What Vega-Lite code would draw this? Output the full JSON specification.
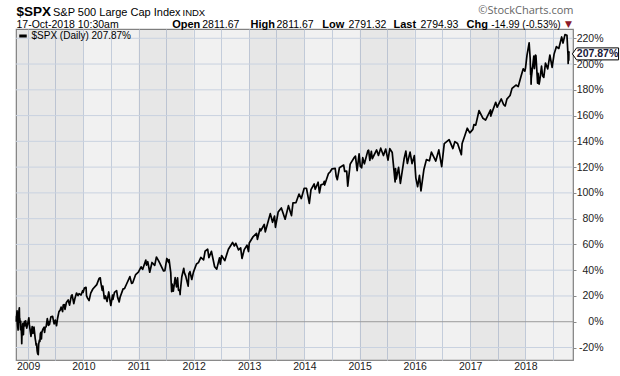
{
  "$schema": "https://vega.github.io/schema/vega-lite/v6.json",
  "width": 557,
  "height": 331,
  "autosize": {"type": "none"},
  "padding": {"left": 16, "top": 29, "right": 47, "bottom": 16},
  "background": "#ffffff",
  "config": {
    "view": {"stroke": "#8a8a8a", "strokeWidth": 1.2, "fill": "#ffffff"},
    "font": "Liberation Sans"
  },
  "datasets": {
    "spx": [
      {"d":"2008-10-15","v":0},{"d":"2008-10-16","v":4.2},{"d":"2008-10-17","v":3.6},{"d":"2008-10-20","v":8.5},{"d":"2008-10-21","v":5.2},{"d":"2008-10-22","v":-1.2},{"d":"2008-10-24","v":-3.4},{"d":"2008-10-27","v":-6.5},{"d":"2008-10-28","v":3.6},{"d":"2008-10-31","v":6.7},{"d":"2008-11-04","v":10.8},{"d":"2008-11-06","v":-0.3},{"d":"2008-11-07","v":2.6},{"d":"2008-11-12","v":-6.1},{"d":"2008-11-13","v":0.4},{"d":"2008-11-14","v":-3.8},{"d":"2008-11-17","v":-6.3},{"d":"2008-11-19","v":-11.2},{"d":"2008-11-20","v":-17.1},{"d":"2008-11-21","v":-11.9},{"d":"2008-11-24","v":-6.2},{"d":"2008-11-26","v":-2.2},{"d":"2008-11-28","v":-1.3},{"d":"2008-12-01","v":-10.1},{"d":"2008-12-03","v":-4.1},{"d":"2008-12-05","v":-3.5},{"d":"2008-12-08","v":0.2},{"d":"2008-12-12","v":-3.1},{"d":"2008-12-16","v":0.6},{"d":"2008-12-19","v":-2.2},{"d":"2008-12-23","v":-4.9},{"d":"2008-12-31","v":-0.5},
      {"d":"2009-01-06","v":3.0},{"d":"2009-01-09","v":-1.9},{"d":"2009-01-15","v":-7.1},{"d":"2009-01-20","v":-11.3},{"d":"2009-01-23","v":-8.4},{"d":"2009-01-28","v":-3.7},{"d":"2009-02-02","v":-9.1},{"d":"2009-02-09","v":-4.2},{"d":"2009-02-17","v":-13.1},{"d":"2009-02-20","v":-15.2},{"d":"2009-02-23","v":-18.1},{"d":"2009-02-26","v":-17.1},{"d":"2009-03-02","v":-22.8},{"d":"2009-03-05","v":-24.8},{"d":"2009-03-09","v":-25.5},{"d":"2009-03-12","v":-17.3},{"d":"2009-03-17","v":-14.3},{"d":"2009-03-20","v":-15.3},{"d":"2009-03-23","v":-9.4},{"d":"2009-03-26","v":-8.3},{"d":"2009-03-30","v":-13.3},{"d":"2009-04-02","v":-8.1},{"d":"2009-04-09","v":-5.7},{"d":"2009-04-17","v":-4.2},{"d":"2009-04-20","v":-8.3},{"d":"2009-04-24","v":-4.6},{"d":"2009-04-30","v":-3.9},{"d":"2009-05-08","v":2.4},{"d":"2009-05-15","v":-2.8},{"d":"2009-05-19","v":0.0},{"d":"2009-05-22","v":-2.3},{"d":"2009-06-01","v":3.9},{"d":"2009-06-12","v":4.2},{"d":"2009-06-22","v":-1.6},{"d":"2009-06-23","v":-1.4},{"d":"2009-06-30","v":1.3},{"d":"2009-07-08","v":-3.1},{"d":"2009-07-15","v":2.7},{"d":"2009-07-24","v":7.9},{"d":"2009-07-31","v":8.8},{"d":"2009-08-07","v":11.3},{"d":"2009-08-17","v":7.9},{"d":"2009-08-21","v":13.0},{"d":"2009-08-28","v":13.3},{"d":"2009-09-02","v":9.6},{"d":"2009-09-11","v":14.9},{"d":"2009-09-23","v":16.9},{"d":"2009-10-02","v":12.9},{"d":"2009-10-14","v":20.3},{"d":"2009-10-19","v":20.9},{"d":"2009-10-30","v":14.1},{"d":"2009-11-06","v":17.8},{"d":"2009-11-17","v":22.3},{"d":"2009-11-27","v":20.2},{"d":"2009-12-04","v":21.8},{"d":"2009-12-17","v":20.7},{"d":"2009-12-28","v":24.2},{"d":"2009-12-31","v":22.8},
      {"d":"2010-01-08","v":26.1},{"d":"2010-01-19","v":26.7},{"d":"2010-01-22","v":20.3},{"d":"2010-01-29","v":18.3},{"d":"2010-02-08","v":16.4},{"d":"2010-02-19","v":22.2},{"d":"2010-03-05","v":25.4},{"d":"2010-03-31","v":28.8},{"d":"2010-04-15","v":33.5},{"d":"2010-04-23","v":34.1},{"d":"2010-04-27","v":30.4},{"d":"2010-05-06","v":24.3},{"d":"2010-05-10","v":27.7},{"d":"2010-05-20","v":18.0},{"d":"2010-05-25","v":18.3},{"d":"2010-05-28","v":20.0},{"d":"2010-06-07","v":15.7},{"d":"2010-06-18","v":23.1},{"d":"2010-06-30","v":13.5},{"d":"2010-07-02","v":12.6},{"d":"2010-07-13","v":20.7},{"d":"2010-07-16","v":17.3},{"d":"2010-07-26","v":22.8},{"d":"2010-08-09","v":24.2},{"d":"2010-08-16","v":18.9},{"d":"2010-08-26","v":15.4},{"d":"2010-09-01","v":19.0},{"d":"2010-09-21","v":25.5},{"d":"2010-09-30","v":25.7},{"d":"2010-10-14","v":29.3},{"d":"2010-11-05","v":35.0},{"d":"2010-11-16","v":29.8},{"d":"2010-11-23","v":30.1},{"d":"2010-12-13","v":36.6},{"d":"2010-12-31","v":38.5},
      {"d":"2011-01-18","v":42.6},{"d":"2011-01-28","v":40.6},{"d":"2011-02-18","v":47.9},{"d":"2011-02-23","v":44.0},{"d":"2011-03-03","v":46.6},{"d":"2011-03-16","v":38.4},{"d":"2011-03-31","v":46.0},{"d":"2011-04-18","v":43.8},{"d":"2011-04-29","v":50.2},{"d":"2011-05-13","v":47.4},{"d":"2011-05-23","v":45.1},{"d":"2011-06-15","v":39.4},{"d":"2011-06-24","v":39.7},{"d":"2011-07-07","v":49.1},{"d":"2011-07-19","v":46.1},{"d":"2011-07-22","v":48.2},{"d":"2011-08-02","v":38.1},{"d":"2011-08-04","v":32.2},{"d":"2011-08-08","v":23.3},{"d":"2011-08-09","v":29.2},{"d":"2011-08-10","v":23.5},{"d":"2011-08-11","v":29.2},{"d":"2011-08-19","v":23.8},{"d":"2011-08-31","v":34.3},{"d":"2011-09-09","v":27.1},{"d":"2011-09-16","v":34.0},{"d":"2011-09-22","v":24.4},{"d":"2011-09-30","v":24.6},{"d":"2011-10-03","v":21.1},{"d":"2011-10-04","v":23.8},{"d":"2011-10-14","v":34.9},{"d":"2011-10-27","v":41.5},{"d":"2011-10-31","v":38.1},{"d":"2011-11-09","v":35.4},{"d":"2011-11-25","v":27.6},{"d":"2011-11-30","v":37.4},{"d":"2011-12-07","v":38.9},{"d":"2011-12-19","v":32.8},{"d":"2011-12-30","v":38.5},
      {"d":"2012-01-19","v":44.8},{"d":"2012-02-01","v":45.9},{"d":"2012-02-17","v":49.9},{"d":"2012-03-06","v":48.0},{"d":"2012-03-16","v":54.7},{"d":"2012-04-02","v":56.3},{"d":"2012-04-10","v":49.7},{"d":"2012-04-27","v":54.6},{"d":"2012-05-18","v":42.7},{"d":"2012-06-01","v":40.8},{"d":"2012-06-19","v":49.6},{"d":"2012-06-25","v":44.7},{"d":"2012-07-03","v":51.4},{"d":"2012-07-24","v":47.4},{"d":"2012-08-17","v":56.2},{"d":"2012-09-14","v":61.5},{"d":"2012-09-25","v":58.8},{"d":"2012-10-05","v":60.9},{"d":"2012-10-23","v":55.7},{"d":"2012-11-06","v":57.3},{"d":"2012-11-15","v":49.1},{"d":"2012-11-30","v":56.0},{"d":"2012-12-18","v":59.4},{"d":"2012-12-28","v":54.5},
      {"d":"2013-01-02","v":61.1},{"d":"2013-01-25","v":65.6},{"d":"2013-02-19","v":68.6},{"d":"2013-02-25","v":63.9},{"d":"2013-03-14","v":72.2},{"d":"2013-03-19","v":70.6},{"d":"2013-04-11","v":75.5},{"d":"2013-04-18","v":69.8},{"d":"2013-05-21","v":83.9},{"d":"2013-05-31","v":79.6},{"d":"2013-06-05","v":77.2},{"d":"2013-06-18","v":82.0},{"d":"2013-06-24","v":73.3},{"d":"2013-07-12","v":85.1},{"d":"2013-08-02","v":88.3},{"d":"2013-08-27","v":79.6},{"d":"2013-09-18","v":90.1},{"d":"2013-10-08","v":82.4},{"d":"2013-10-18","v":92.2},{"d":"2013-11-07","v":92.5},{"d":"2013-11-27","v":99.1},{"d":"2013-12-12","v":95.6},{"d":"2013-12-31","v":103.6},
      {"d":"2014-01-15","v":103.6},{"d":"2014-02-03","v":91.9},{"d":"2014-02-14","v":102.5},{"d":"2014-03-07","v":106.9},{"d":"2014-03-14","v":102.8},{"d":"2014-04-02","v":108.3},{"d":"2014-04-11","v":100.0},{"d":"2014-04-21","v":106.2},{"d":"2014-05-07","v":106.9},{"d":"2014-05-13","v":109.0},{"d":"2014-05-15","v":106.1},{"d":"2014-06-09","v":114.9},{"d":"2014-06-20","v":116.2},{"d":"2014-07-03","v":118.7},{"d":"2014-07-24","v":119.0},{"d":"2014-07-31","v":112.7},{"d":"2014-08-07","v":110.3},{"d":"2014-08-21","v":119.5},{"d":"2014-09-18","v":121.6},{"d":"2014-09-25","v":116.6},{"d":"2014-10-08","v":116.9},{"d":"2014-10-15","v":105.2},{"d":"2014-10-31","v":122.3},{"d":"2014-11-28","v":127.7},{"d":"2014-12-05","v":128.6},{"d":"2014-12-16","v":117.3},{"d":"2014-12-29","v":130.3},
      {"d":"2015-01-06","v":120.6},{"d":"2015-01-15","v":119.5},{"d":"2015-01-22","v":127.3},{"d":"2015-02-02","v":122.6},{"d":"2015-02-25","v":132.8},{"d":"2015-03-02","v":133.2},{"d":"2015-03-10","v":125.2},{"d":"2015-03-20","v":132.2},{"d":"2015-03-26","v":126.5},{"d":"2015-04-24","v":133.3},{"d":"2015-05-06","v":129.1},{"d":"2015-05-21","v":134.7},{"d":"2015-06-08","v":129.0},{"d":"2015-06-23","v":134.0},{"d":"2015-07-08","v":125.4},{"d":"2015-07-20","v":134.4},{"d":"2015-08-05","v":131.3},{"d":"2015-08-24","v":108.5},{"d":"2015-08-27","v":118.9},{"d":"2015-09-01","v":110.8},{"d":"2015-09-16","v":119.8},{"d":"2015-09-28","v":107.3},{"d":"2015-10-22","v":126.1},{"d":"2015-11-03","v":132.4},{"d":"2015-11-13","v":122.8},{"d":"2015-12-01","v":131.6},{"d":"2015-12-14","v":122.7},{"d":"2015-12-29","v":128.9},
      {"d":"2016-01-08","v":111.7},{"d":"2016-01-20","v":104.8},{"d":"2016-02-01","v":113.6},{"d":"2016-02-11","v":101.5},{"d":"2016-03-01","v":117.9},{"d":"2016-03-18","v":125.8},{"d":"2016-04-07","v":124.9},{"d":"2016-04-20","v":131.6},{"d":"2016-05-19","v":124.7},{"d":"2016-06-08","v":133.4},{"d":"2016-06-27","v":120.4},{"d":"2016-07-14","v":138.3},{"d":"2016-08-15","v":141.3},{"d":"2016-09-09","v":134.4},{"d":"2016-09-22","v":139.8},{"d":"2016-10-10","v":138.3},{"d":"2016-11-04","v":129.7},{"d":"2016-11-09","v":138.3},{"d":"2016-11-25","v":143.8},{"d":"2016-12-13","v":150.2},{"d":"2016-12-30","v":146.6},
      {"d":"2017-01-19","v":149.3},{"d":"2017-01-26","v":153.0},{"d":"2017-02-07","v":152.6},{"d":"2017-03-01","v":163.9},{"d":"2017-03-27","v":157.9},{"d":"2017-04-13","v":156.5},{"d":"2017-05-16","v":164.4},{"d":"2017-05-17","v":159.6},{"d":"2017-06-19","v":170.3},{"d":"2017-06-29","v":166.5},{"d":"2017-07-26","v":172.9},{"d":"2017-08-10","v":168.6},{"d":"2017-08-17","v":167.7},{"d":"2017-08-21","v":167.5},{"d":"2017-09-01","v":172.8},{"d":"2017-09-22","v":175.6},{"d":"2017-10-05","v":181.1},{"d":"2017-10-31","v":183.7},{"d":"2017-11-15","v":182.5},{"d":"2017-12-04","v":190.7},{"d":"2017-12-18","v":196.3},{"d":"2017-12-29","v":194.5},
      {"d":"2018-01-02","v":196.9},{"d":"2018-01-12","v":206.9},{"d":"2018-01-26","v":216.5},{"d":"2018-02-02","v":204.3},{"d":"2018-02-05","v":191.8},{"d":"2018-02-06","v":196.9},{"d":"2018-02-08","v":184.3},{"d":"2018-02-09","v":188.6},{"d":"2018-02-26","v":206.2},{"d":"2018-03-02","v":196.5},{"d":"2018-03-09","v":206.9},{"d":"2018-03-12","v":206.6},{"d":"2018-03-23","v":185.1},{"d":"2018-03-26","v":192.8},{"d":"2018-04-02","v":184.4},{"d":"2018-04-06","v":186.9},{"d":"2018-04-18","v":198.4},{"d":"2018-04-25","v":190.7},{"d":"2018-05-03","v":189.7},{"d":"2018-05-14","v":200.7},{"d":"2018-05-29","v":196.3},{"d":"2018-06-12","v":207.0},{"d":"2018-06-27","v":197.4},{"d":"2018-07-10","v":207.7},{"d":"2018-07-25","v":213.5},{"d":"2018-08-10","v":212.1},{"d":"2018-08-29","v":221.0},{"d":"2018-09-07","v":216.3},{"d":"2018-09-20","v":222.8},{"d":"2018-10-03","v":222.3},{"d":"2018-10-10","v":206.9},{"d":"2018-10-11","v":200.5},{"d":"2018-10-12","v":204.8},{"d":"2018-10-15","v":203.0},{"d":"2018-10-16","v":209.5},{"d":"2018-10-17","v":207.87}
    ],
    "bands": [
      {"s":"2008-10-13","e":"2010-01-01","b":"dark"},
      {"s":"2010-01-01","e":"2011-01-01","b":"light"},
      {"s":"2011-01-01","e":"2012-01-01","b":"dark"},
      {"s":"2012-01-01","e":"2013-01-01","b":"light"},
      {"s":"2013-01-01","e":"2014-01-01","b":"dark"},
      {"s":"2014-01-01","e":"2015-01-01","b":"light"},
      {"s":"2015-01-01","e":"2016-01-01","b":"dark"},
      {"s":"2016-01-01","e":"2017-01-01","b":"light"},
      {"s":"2017-01-01","e":"2018-01-01","b":"dark"},
      {"s":"2018-01-01","e":"2018-11-12","b":"light"}
    ],
    "hgrid": [{"v":-20},{"v":20},{"v":40},{"v":60},{"v":80},{"v":100},{"v":120},{"v":140},{"v":160},{"v":180},{"v":200},{"v":220}],
    "zero": [{"v": 0}],
    "last": [{"d":"2018-10-17","v":207.87,"lbl":"207.87%"}],
    "dummy": [{"u":0}]
  },
  "resolve": {
    "scale": {"x": "independent", "y": "independent"},
    "axis": {"x": "independent", "y": "independent"}
  },
  "layer": [
    {
      "layer": [
        {
          "data": {"name": "bands"},
          "mark": {"type": "rect", "fill": "#000000"},
          "encoding": {
            "x": {"field": "s", "type": "temporal", "scale": {"domain": [{"year":2008,"month":10,"date":13},{"year":2018,"month":11,"date":12}], "nice": false}, "axis": {"orient": "bottom"}},
            "x2": {"field": "e"},
            "opacity": {"field": "b", "type": "ordinal", "scale": {"domain": ["dark","light"], "range": [0.095, 0.055]}, "legend": null}
          }
        },
        {
          "data": {"name": "hgrid"},
          "mark": {"type": "rule", "color": "#c9d2e0", "strokeWidth": 1},
          "encoding": {
            "y": {"field": "v", "type": "quantitative", "scale": {"domain": [-29.7, 227.2], "nice": false, "zero": false}, "axis": {"orient": "right"}}
          }
        },
        {
          "data": {"name": "zero"},
          "mark": {"type": "rule", "color": "#9a9a9a", "strokeWidth": 1},
          "encoding": {
            "y": {"field": "v", "type": "quantitative", "scale": {"domain": [-29.7, 227.2], "nice": false, "zero": false}, "axis": {"orient": "right"}}
          }
        },
        {
          "data": {"name": "spx"},
          "mark": {"type": "line", "strokeWidth": 1.7, "strokeJoin": "round"},
          "encoding": {
            "x": {
              "field": "d", "type": "temporal",
              "scale": {"domain": [{"year":2008,"month":10,"date":13},{"year":2018,"month":11,"date":12}], "nice": false},
              "axis": {
                "orient": "bottom",
                "values": [
                  {"year":2009,"month":1,"date":1},{"year":2009,"month":7,"date":1},
                  {"year":2010,"month":1,"date":1},{"year":2010,"month":7,"date":1},
                  {"year":2011,"month":1,"date":1},{"year":2011,"month":7,"date":1},
                  {"year":2012,"month":1,"date":1},{"year":2012,"month":7,"date":1},
                  {"year":2013,"month":1,"date":1},{"year":2013,"month":7,"date":1},
                  {"year":2014,"month":1,"date":1},{"year":2014,"month":7,"date":1},
                  {"year":2015,"month":1,"date":1},{"year":2015,"month":7,"date":1},
                  {"year":2016,"month":1,"date":1},{"year":2016,"month":7,"date":1},
                  {"year":2017,"month":1,"date":1},{"year":2017,"month":7,"date":1},
                  {"year":2018,"month":1,"date":1},{"year":2018,"month":7,"date":1}
                ],
                "tickCount": 40,
                "labelExpr": "month(datum.value) === 0 ? timeFormat(datum.value, '%Y') : ''",
                "grid": true, "gridColor": "#d0d9e8", "gridWidth": 1,
                "ticks": false, "domain": false,
                "labelFlush": false, "labelOverlap": false, "labelPadding": 1,
                "labelFont": "Liberation Sans", "labelFontSize": 10.5, "labelColor": "#222222",
                "title": "©StockCharts.com", "titleX": 557, "titleY": -347,
                "titleAlign": "right", "titleBaseline": "alphabetic", "titleAngle": 0,
                "titleFont": "Open Sans", "titleFontSize": 11, "titleFontWeight": "normal", "titleColor": "#666666"
              }
            },
            "y": {
              "field": "v", "type": "quantitative",
              "scale": {"domain": [-29.7, 227.2], "nice": false, "zero": false},
              "axis": {
                "orient": "right",
                "values": [-20, 0, 20, 40, 60, 80, 100, 120, 140, 160, 180, 200, 220],
                "tickCount": 40,
                "labelExpr": "datum.value + '%'",
                "labelOverlap": false,
                "grid": false,
                "tickSize": 3, "tickColor": "#8a8a8a", "domain": true, "domainColor": "#8a8a8a",
                "labelAlign": "right", "labelBaseline": "middle", "labelPadding": 27,
                "labelFont": "Liberation Sans", "labelFontSize": 10.5, "labelColor": "#222222",
                "title": "▼", "titleX": -5, "titleY": -2.5, "titleAngle": 0,
                "titleAlign": "center", "titleBaseline": "alphabetic",
                "titleFont": "DejaVu Sans", "titleFontSize": 9, "titleFontWeight": "normal", "titleColor": "#8b1a2a"
              }
            },
            "color": {
              "datum": "$SPX (Daily) 207.87%",
              "scale": {"range": ["#000000"]},
              "legend": {
                "orient": "top-left", "offset": 0, "padding": 1.5, "title": null,
                "symbolType": "stroke", "symbolStrokeWidth": 3, "symbolSize": 56,
                "labelFont": "Liberation Sans", "labelFontSize": 10, "labelColor": "#000000", "labelOffset": 3
              }
            }
          }
        },
        {
          "data": {"name": "last"},
          "mark": {"type": "point", "shape": "M0.33,0L0.75,-0.6L4.95,-0.6L4.95,0.6L0.75,0.6Z", "size": 400, "filled": true, "fill": "#ffffff", "stroke": "#000000", "strokeWidth": 1, "opacity": 1},
          "encoding": {
            "x": {"field": "d", "type": "temporal", "scale": {"domain": [{"year":2008,"month":10,"date":13},{"year":2018,"month":11,"date":12}], "nice": false}, "axis": {"orient": "bottom"}},
            "y": {"field": "v", "type": "quantitative", "scale": {"domain": [-29.7, 227.2], "nice": false, "zero": false}, "axis": {"orient": "right"}}
          }
        },
        {
          "data": {"name": "last"},
          "mark": {"type": "text", "dx": 28.5, "align": "center", "baseline": "middle", "font": "Liberation Sans", "fontSize": 10.5, "fontWeight": "bold", "color": "#1a1a3a"},
          "encoding": {
            "x": {"field": "d", "type": "temporal", "scale": {"domain": [{"year":2008,"month":10,"date":13},{"year":2018,"month":11,"date":12}], "nice": false}, "axis": {"orient": "bottom"}},
            "y": {"field": "v", "type": "quantitative", "scale": {"domain": [-29.7, 227.2], "nice": false, "zero": false}, "axis": {"orient": "right"}},
            "text": {"field": "lbl"}
          }
        }
      ]
    },
    {
      "data": {"name": "dummy"},
      "mark": {"type": "point", "opacity": 0},
      "encoding": {
        "x": {"field": "u", "type": "quantitative", "scale": {"domain": [0, 1]}, "axis": {"orient": "top", "labels": false, "ticks": false, "domain": false, "grid": false, "title": "$SPX", "titleX": 0, "titleY": -13.5, "titleAlign": "left", "titleBaseline": "alphabetic", "titleAngle": 0, "titleFont": "Liberation Sans", "titleFontSize": 13.5, "titleFontWeight": "bold", "titleColor": "#000000"}},
        "y": {"field": "u", "type": "quantitative", "scale": {"domain": [0, 1]}, "axis": {"orient": "left", "labels": false, "ticks": false, "domain": false, "grid": false, "title": "17-Oct-2018 10:30am", "titleX": 0, "titleY": -2, "titleAlign": "left", "titleBaseline": "alphabetic", "titleAngle": 0, "titleFont": "Liberation Sans", "titleFontSize": 10.5, "titleFontWeight": "normal", "titleColor": "#000000"}}
      }
    },
    {
      "data": {"name": "dummy"},
      "mark": {"type": "point", "opacity": 0},
      "encoding": {
        "x": {"field": "u", "type": "quantitative", "scale": {"domain": [0, 1]}, "axis": {"orient": "top", "labels": false, "ticks": false, "domain": false, "grid": false, "title": "S&P 500 Large Cap Index", "titleX": 36.5, "titleY": -13.3, "titleAlign": "left", "titleBaseline": "alphabetic", "titleAngle": 0, "titleFont": "Liberation Sans", "titleFontSize": 11, "titleFontWeight": "normal", "titleColor": "#000000"}},
        "y": {"field": "u", "type": "quantitative", "scale": {"domain": [0, 1]}, "axis": {"orient": "left", "labels": false, "ticks": false, "domain": false, "grid": false, "title": "INDX", "titleX": 166, "titleY": -14, "titleAlign": "left", "titleBaseline": "alphabetic", "titleAngle": 0, "titleFont": "Liberation Sans", "titleFontSize": 9.5, "titleFontWeight": "normal", "titleColor": "#000000"}}
      }
    },
    {
      "data": {"name": "dummy"},
      "mark": {"type": "point", "opacity": 0},
      "encoding": {
        "x": {"field": "u", "type": "quantitative", "scale": {"domain": [0, 1]}, "axis": {"orient": "top", "labels": false, "ticks": false, "domain": false, "grid": false, "title": "Open", "titleX": 155.7, "titleY": -2, "titleAlign": "left", "titleBaseline": "alphabetic", "titleAngle": 0, "titleFont": "Liberation Sans", "titleFontSize": 11, "titleFontWeight": "bold", "titleColor": "#000000"}},
        "y": {"field": "u", "type": "quantitative", "scale": {"domain": [0, 1]}, "axis": {"orient": "left", "labels": false, "ticks": false, "domain": false, "grid": false, "title": "2811.67", "titleX": 185.7, "titleY": -2, "titleAlign": "left", "titleBaseline": "alphabetic", "titleAngle": 0, "titleFont": "Liberation Sans", "titleFontSize": 10.5, "titleFontWeight": "normal", "titleColor": "#000000"}}
      }
    },
    {
      "data": {"name": "dummy"},
      "mark": {"type": "point", "opacity": 0},
      "encoding": {
        "x": {"field": "u", "type": "quantitative", "scale": {"domain": [0, 1]}, "axis": {"orient": "top", "labels": false, "ticks": false, "domain": false, "grid": false, "title": "High", "titleX": 234, "titleY": -2, "titleAlign": "left", "titleBaseline": "alphabetic", "titleAngle": 0, "titleFont": "Liberation Sans", "titleFontSize": 11, "titleFontWeight": "bold", "titleColor": "#000000"}},
        "y": {"field": "u", "type": "quantitative", "scale": {"domain": [0, 1]}, "axis": {"orient": "left", "labels": false, "ticks": false, "domain": false, "grid": false, "title": "2811.67", "titleX": 260, "titleY": -2, "titleAlign": "left", "titleBaseline": "alphabetic", "titleAngle": 0, "titleFont": "Liberation Sans", "titleFontSize": 10.5, "titleFontWeight": "normal", "titleColor": "#000000"}}
      }
    },
    {
      "data": {"name": "dummy"},
      "mark": {"type": "point", "opacity": 0},
      "encoding": {
        "x": {"field": "u", "type": "quantitative", "scale": {"domain": [0, 1]}, "axis": {"orient": "top", "labels": false, "ticks": false, "domain": false, "grid": false, "title": "Low", "titleX": 305.7, "titleY": -2, "titleAlign": "left", "titleBaseline": "alphabetic", "titleAngle": 0, "titleFont": "Liberation Sans", "titleFontSize": 11, "titleFontWeight": "bold", "titleColor": "#000000"}},
        "y": {"field": "u", "type": "quantitative", "scale": {"domain": [0, 1]}, "axis": {"orient": "left", "labels": false, "ticks": false, "domain": false, "grid": false, "title": "2791.32", "titleX": 332, "titleY": -2, "titleAlign": "left", "titleBaseline": "alphabetic", "titleAngle": 0, "titleFont": "Liberation Sans", "titleFontSize": 10.5, "titleFontWeight": "normal", "titleColor": "#000000"}}
      }
    },
    {
      "data": {"name": "dummy"},
      "mark": {"type": "point", "opacity": 0},
      "encoding": {
        "x": {"field": "u", "type": "quantitative", "scale": {"domain": [0, 1]}, "axis": {"orient": "top", "labels": false, "ticks": false, "domain": false, "grid": false, "title": "Last", "titleX": 377, "titleY": -2, "titleAlign": "left", "titleBaseline": "alphabetic", "titleAngle": 0, "titleFont": "Liberation Sans", "titleFontSize": 11, "titleFontWeight": "bold", "titleColor": "#000000"}},
        "y": {"field": "u", "type": "quantitative", "scale": {"domain": [0, 1]}, "axis": {"orient": "left", "labels": false, "ticks": false, "domain": false, "grid": false, "title": "2794.93", "titleX": 404, "titleY": -2, "titleAlign": "left", "titleBaseline": "alphabetic", "titleAngle": 0, "titleFont": "Liberation Sans", "titleFontSize": 10.5, "titleFontWeight": "normal", "titleColor": "#000000"}}
      }
    },
    {
      "data": {"name": "dummy"},
      "mark": {"type": "point", "opacity": 0},
      "encoding": {
        "x": {"field": "u", "type": "quantitative", "scale": {"domain": [0, 1]}, "axis": {"orient": "top", "labels": false, "ticks": false, "domain": false, "grid": false, "title": "Chg", "titleX": 450, "titleY": -2, "titleAlign": "left", "titleBaseline": "alphabetic", "titleAngle": 0, "titleFont": "Liberation Sans", "titleFontSize": 11, "titleFontWeight": "bold", "titleColor": "#000000"}},
        "y": {"field": "u", "type": "quantitative", "scale": {"domain": [0, 1]}, "axis": {"orient": "left", "labels": false, "ticks": false, "domain": false, "grid": false, "title": "-14.99 (-0.53%)", "titleX": 474.7, "titleY": -2, "titleAlign": "left", "titleBaseline": "alphabetic", "titleAngle": 0, "titleFont": "Liberation Sans", "titleFontSize": 10, "titleFontWeight": "normal", "titleColor": "#000000"}}
      }
    }
  ]
}
